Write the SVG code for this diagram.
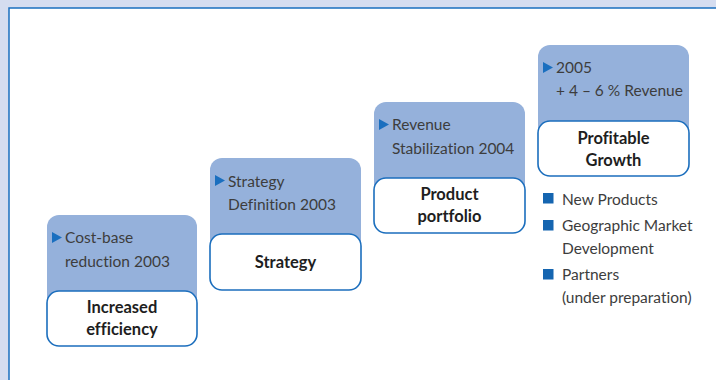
<svg xmlns="http://www.w3.org/2000/svg" width="716" height="380" viewBox="0 0 716 380">
<style>
.top{fill:#95b1db}
.box{fill:#fff;stroke:#1b6ebd;stroke-width:1.6}
.t{font-family:Lato,"Open Sans",sans-serif;font-size:15.5px;fill:#3d3d3d;font-variant-ligatures:none}
.b{font-family:Lato,"Open Sans",sans-serif;font-size:16.5px;font-weight:bold;fill:#1e1e1e;text-anchor:middle;font-variant-ligatures:none}
.tri{fill:#1a6fbf}
.sq{fill:#1565b0}
</style>
<defs>
<path id="tri" d="M0,0 L10,5.5 L0,11 Z"/>
</defs>
<rect x="0" y="0" width="716" height="380" fill="#d5ddf0"/>
<rect x="9" y="8" width="720" height="380" fill="#fff" stroke="#1a6fbf" stroke-width="1.5"/>
<g id="node-efficiency">
<rect class="top" x="47" y="215" width="150" height="100" rx="12"/>
<rect class="box" x="47" y="291" width="150" height="55" rx="12"/>
<use href="#tri" class="tri" x="52" y="232"/>
<text class="t" x="65" y="243">Cost-base</text>
<text class="t" x="65" y="267">reduction 2003</text>
<text class="b" x="122" y="313">Increased</text>
<text class="b" x="122" y="335">efficiency</text>
</g>
<g id="node-strategy">
<rect class="top" x="210" y="158" width="151" height="100" rx="12"/>
<rect class="box" x="210" y="234" width="151" height="56" rx="12"/>
<use href="#tri" class="tri" x="215" y="175"/>
<text class="t" x="228" y="187">Strategy</text>
<text class="t" x="228" y="210">Definition 2003</text>
<text class="b" x="285.5" y="268">Strategy</text>
</g>
<g id="node-portfolio">
<rect class="top" x="374" y="102" width="151" height="100" rx="12"/>
<rect class="box" x="374" y="178" width="151" height="55" rx="12"/>
<use href="#tri" class="tri" x="379" y="119"/>
<text class="t" x="392" y="130">Revenue</text>
<text class="t" x="392" y="154">Stabilization 2004</text>
<text class="b" x="449.5" y="200">Product</text>
<text class="b" x="449.5" y="222">portfolio</text>
</g>
<g id="node-growth">
<rect class="top" x="538" y="45" width="151" height="100" rx="12"/>
<rect class="box" x="538" y="121" width="151" height="55" rx="12"/>
<use href="#tri" class="tri" x="543" y="62"/>
<text class="t" x="556" y="73">2005</text>
<text class="t" x="556" y="96">+ 4 – 6 % Revenue</text>
<text class="b" x="613.5" y="144">Profitable</text>
<text class="b" x="613.5" y="166">Growth</text>
</g>
<g id="bullets">
<rect class="sq" x="543" y="193" width="10.5" height="10.5"/>
<text class="t" x="562" y="205">New Products</text>
<rect class="sq" x="543" y="220" width="10.5" height="10.5"/>
<text class="t" x="562" y="231">Geographic Market</text>
<text class="t" x="562" y="254">Development</text>
<rect class="sq" x="543" y="269" width="10.5" height="10.5"/>
<text class="t" x="562" y="280">Partners</text>
<text class="t" x="562" y="303">(under preparation)</text>
</g>
</svg>
